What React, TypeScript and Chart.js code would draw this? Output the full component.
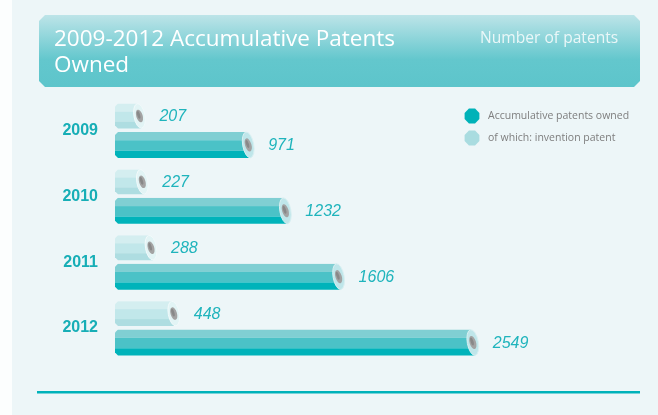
import React, { useEffect, useRef } from "react";
import { Chart, registerables } from "chart.js";

Chart.register(...registerables);

const years = ["2009", "2010", "2011", "2012"];
const inventionPatents = [207, 227, 288, 448];
const accumulativePatents = [971, 1232, 1606, 2549];
const seriesNames = ["of which: invention patent", "Accumulative patents owned"];
const titleLines = ["2009-2012 Accumulative Patents", "Owned"];
const unitLabel = "Number of patents";

const W = 658;
const H = 415;

type Pal = { s1: string; s2: string; s3: string; face: string; faceEdge: string; legend: string };
const palettes: Pal[] = [
  { s1: "#D4EEF0", s2: "#C1E7EA", s3: "#AEDDE1", face: "#E2F4F5", faceEdge: "#F2FAFB", legend: "#A9DCE0" },
  { s1: "#80CFD3", s2: "#4BC2C7", s3: "#00B3BA", face: "#BFE6EA", faceEdge: "#D9F0F2", legend: "#00B2B8" },
];

function drawPencil(ctx: CanvasRenderingContext2D, x0: number, x1: number, cy: number, h: number, p: Pal) {
  const top = cy - h / 2;
  const bot = cy + h / 2;
  const ch = 3;
  const fcx = x1 - 6;
  ctx.save();
  ctx.beginPath();
  ctx.moveTo(x0 + ch, top);
  ctx.lineTo(fcx - 1, top);
  ctx.lineTo(fcx + 3, bot);
  ctx.lineTo(x0 + ch, bot);
  ctx.lineTo(x0, bot - ch);
  ctx.lineTo(x0, top + ch);
  ctx.closePath();
  ctx.clip();
  ctx.fillStyle = p.s1;
  ctx.fillRect(x0, top, x1 - x0, h * 0.32);
  ctx.fillStyle = p.s2;
  ctx.fillRect(x0, top + h * 0.32, x1 - x0, h * 0.4);
  ctx.fillStyle = p.s3;
  ctx.fillRect(x0, top + h * 0.72, x1 - x0, h * 0.28 + 1);
  ctx.restore();
  // end face
  ctx.save();
  ctx.beginPath();
  ctx.ellipse(fcx + 1, cy, 5.5, h / 2, -0.18, 0, Math.PI * 2);
  ctx.fillStyle = p.face;
  ctx.fill();
  ctx.lineWidth = 1;
  ctx.strokeStyle = p.faceEdge;
  ctx.stroke();
  // lead core
  ctx.beginPath();
  ctx.ellipse(fcx + 1, cy, 3.2, h * 0.26, -0.3, 0, Math.PI * 2);
  ctx.fillStyle = "#A3A3A3";
  ctx.fill();
  ctx.beginPath();
  ctx.ellipse(fcx + 0.2, cy - 1, 1.4, h * 0.16, -0.3, 0, Math.PI * 2);
  ctx.fillStyle = "#888888";
  ctx.fill();
  ctx.restore();
}

const pencilPlugin = {
  id: "pencilDecor",
  beforeDraw(chart: any) {
    const ctx: CanvasRenderingContext2D = chart.ctx;
    ctx.save();
    ctx.fillStyle = "#EDF6F8";
    ctx.fillRect(0, 0, W, H);
    ctx.fillStyle = "#FCFEFE";
    ctx.fillRect(0, 0, 12, H);
    // header box
    const bx = 39, by = 15, bw = 601, bh = 72, c = 6;
    const g = ctx.createLinearGradient(0, by, 0, by + bh);
    g.addColorStop(0, "#BDE4E8");
    g.addColorStop(0.62, "#63C7CD");
    g.addColorStop(1, "#5DC5CB");
    ctx.beginPath();
    ctx.moveTo(bx + c, by);
    ctx.lineTo(bx + bw - c, by);
    ctx.lineTo(bx + bw, by + c);
    ctx.lineTo(bx + bw, by + bh - c);
    ctx.lineTo(bx + bw - c, by + bh);
    ctx.lineTo(bx + c, by + bh);
    ctx.lineTo(bx, by + bh - c);
    ctx.lineTo(bx, by + c);
    ctx.closePath();
    ctx.fillStyle = g;
    ctx.fill();
    ctx.fillStyle = "#FFFFFF";
    ctx.font = "22.5px 'Open Sans'";
    ctx.textBaseline = "alphabetic";
    ctx.textAlign = "left";
    ctx.fillText(titleLines[0], 54, 46);
    ctx.fillText(titleLines[1], 54, 72);
    ctx.fillStyle = "#EAF7F8";
    ctx.font = "15.6px 'Open Sans'";
    ctx.fillText(unitLabel, 480, 43);
    // bottom rule
    ctx.fillStyle = "#00B2BA";
    ctx.fillRect(37, 391, 603, 2.5);
    ctx.restore();
  },
  afterDatasetsDraw(chart: any) {
    const ctx: CanvasRenderingContext2D = chart.ctx;
    chart.data.datasets.forEach((ds: any, di: number) => {
      const meta = chart.getDatasetMeta(di);
      meta.data.forEach((el: any, i: number) => {
        const { x, y, base, height } = el.getProps(["x", "y", "base", "height"], true);
        drawPencil(ctx, base, x, y, height, palettes[di]);
        ctx.save();
        ctx.fillStyle = "#1FB4BC";
        ctx.font = "italic 16px 'Liberation Sans'";
        ctx.textAlign = "left";
        ctx.textBaseline = "middle";
        ctx.fillText(String(ds.data[i]), x + 15, y + 1);
        ctx.restore();
      });
    });
    // legend
    ctx.save();
    const order = [1, 0];
    order.forEach((di, k) => {
      const cy = 116 + k * 22;
      const cx = 472;
      const r = 8;
      ctx.beginPath();
      for (let j = 0; j < 8; j++) {
        const a = Math.PI / 8 + (j * Math.PI) / 4;
        const px = cx + r * Math.cos(a);
        const py = cy + r * Math.sin(a);
        if (j === 0) ctx.moveTo(px, py);
        else ctx.lineTo(px, py);
      }
      ctx.closePath();
      ctx.fillStyle = palettes[di].legend;
      ctx.fill();
      ctx.fillStyle = "#7E7E7E";
      ctx.font = "10.5px 'Open Sans'";
      ctx.textAlign = "left";
      ctx.textBaseline = "middle";
      ctx.fillText(chart.data.datasets[di].label, 488, cy);
    });
    ctx.restore();
  },
};

export default function App() {
  const ref = useRef<HTMLCanvasElement | null>(null);
  useEffect(() => {
    if (!ref.current) return;
    const chart = new Chart(ref.current, {
      type: "bar",
      data: {
        labels: years,
        datasets: [
          {
            label: seriesNames[0],
            data: inventionPatents,
            backgroundColor: "rgba(0,0,0,0)",
            borderWidth: 0,
            barPercentage: 0.86,
            categoryPercentage: 0.879,
          },
          {
            label: seriesNames[1],
            data: accumulativePatents,
            backgroundColor: "rgba(0,0,0,0)",
            borderWidth: 0,
            barPercentage: 0.9,
            categoryPercentage: 0.879,
          },
        ],
      },
      options: {
        indexAxis: "y",
        animation: false,
        responsive: false,
        maintainAspectRatio: false,
        layout: { padding: { top: 97.5, bottom: 54, left: 0, right: 116 } },
        plugins: { legend: { display: false }, tooltip: { enabled: false }, title: { display: false } },
        scales: {
          x: { display: false, min: 0, max: 3000 },
          y: {
            grid: { display: false, drawTicks: false },
            border: { display: false },
            ticks: {
              color: "#17AEB6",
              font: { family: "'Liberation Sans'", weight: "bold", size: 16 },
              padding: 17,
            },
            afterFit: (scale: any) => {
              scale.width = 115;
            },
          },
        },
      },
      plugins: [pencilPlugin],
    } as any);
    return () => chart.destroy();
  }, []);
  return (
    <div style={{ position: "fixed", left: 0, top: 0, width: W, height: H }}>
      <canvas ref={ref} width={W} height={H} style={{ display: "block", width: W, height: H }} />
    </div>
  );
}
